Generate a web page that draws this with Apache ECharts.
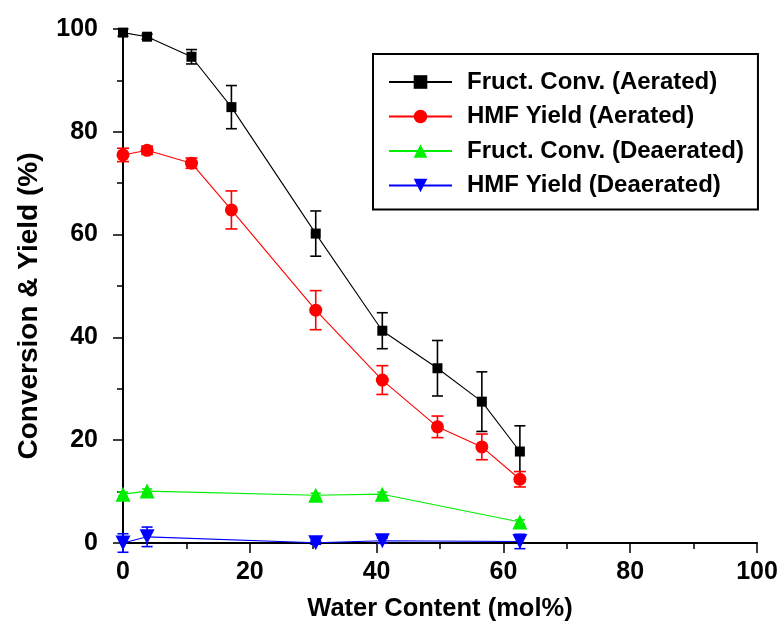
<!DOCTYPE html>
<html>
<head>
<meta charset="utf-8">
<script src="https://cdn.jsdelivr.net/npm/echarts@6/dist/echarts.min.js"></script>
<style>html,body{margin:0;padding:0;background:#fff;}#c{width:784px;height:635px;}</style>
</head>
<body>
<div id="c"></div>
<script>
// Data
var xAerated = [0, 3.8, 10.8, 17.1, 30.4, 40.9, 49.6, 56.6, 62.6];
var fructConvAerated = [99.3, 98.5, 94.6, 84.8, 60.2, 41.3, 34.0, 27.5, 17.8];
var fructConvAeratedErr = [0.7, 0.5, 1.4, 4.2, 4.4, 3.5, 5.4, 5.8, 5.0];
var hmfYieldAerated = [75.5, 76.4, 73.9, 64.8, 45.3, 31.7, 22.6, 18.7, 12.4];
var hmfYieldAeratedErr = [1.3, 0.8, 1.0, 3.7, 3.8, 2.8, 2.1, 2.5, 1.5];
var xDeaerated = [0, 3.8, 30.4, 40.9, 62.6];
var fructConvDeaerated = [9.5, 10.1, 9.3, 9.5, 4.1];
var fructConvDeaeratedErr = [0.4, 0.4, 0.4, 0.4, 0.4];
var hmfYieldDeaerated = [0.0, 1.2, 0.05, 0.45, 0.3];
var hmfYieldDeaeratedErr = [1.8, 1.9, 0.3, 0.5, 1.4];
var seriesNames = ['Fruct. Conv. (Aerated)', 'HMF Yield (Aerated)', 'Fruct. Conv. (Deaerated)', 'HMF Yield (Deaerated)'];
var xTicks = [0, 20, 40, 60, 80, 100];
var yTicks = [0, 20, 40, 60, 80, 100];

var FONT = '"Liberation Sans", Arial, sans-serif';

function pairs(xs, ys) { return xs.map(function (x, i) { return [x, ys[i]]; }); }
function errData(xs, ys, es) { return xs.map(function (x, i) { return [x, ys[i] - es[i], ys[i] + es[i]]; }); }

function errSeries(xs, ys, es, color, capW) {
  return {
    type: 'custom',
    silent: true,
    z: 3,
    data: errData(xs, ys, es),
    encode: { x: 0, y: [1, 2] },
    renderItem: function (params, api) {
      var x = api.value(0), lo = api.value(1), hi = api.value(2);
      var pt = api.coord([x, hi]), pb = api.coord([x, lo]);
      var st = { stroke: color, lineWidth: 1.6 };
      return {
        type: 'group',
        children: [
          { type: 'line', shape: { x1: pt[0], y1: pt[1], x2: pb[0], y2: pb[1] }, style: st },
          { type: 'line', shape: { x1: pt[0] - capW, y1: pt[1], x2: pt[0] + capW, y2: pt[1] }, style: st },
          { type: 'line', shape: { x1: pb[0] - capW, y1: pb[1], x2: pb[0] + capW, y2: pb[1] }, style: st }
        ]
      };
    }
  };
}

function lineSeries(name, xs, ys, color, symbol, size, rotate) {
  return {
    name: name,
    type: 'line',
    z: 4,
    data: pairs(xs, ys),
    symbol: symbol,
    symbolSize: size,
    symbolRotate: rotate || 0,
    showAllSymbol: true,
    lineStyle: { color: color, width: 1.1 },
    itemStyle: { color: color },
    emphasis: { disabled: true }
  };
}

var chart = echarts.init(document.getElementById('c'), null, { renderer: 'canvas' });
chart.setOption({
  animation: false,
  backgroundColor: '#ffffff',
  grid: { left: 123, right: 27, top: 29, bottom: 92, containLabel: false },
  legend: {
    data: seriesNames,
    orient: 'vertical',
    left: 373,
    top: 54,
    padding: [16, 14, 12, 15],
    itemGap: 10.5,
    itemWidth: 63,
    itemHeight: 17,
    borderColor: '#000',
    borderWidth: 2,
    textStyle: { fontFamily: FONT, fontWeight: 'bold', fontSize: 24, color: '#000', padding: [0, 0, 0, 10] }
  },
  xAxis: {
    type: 'value',
    min: 0, max: 100, interval: 20,
    name: 'Water Content (mol%)',
    nameLocation: 'middle',
    nameGap: 53,
    nameTextStyle: { fontFamily: FONT, fontWeight: 'bold', fontSize: 25.5, color: '#000' },
    axisLine: { show: true, onZero: false, lineStyle: { color: '#000', width: 2 } },
    axisTick: { show: true, inside: false, length: 10, lineStyle: { color: '#000', width: 1.5 } },
    minorTick: { show: true, splitNumber: 2, length: 6, lineStyle: { color: '#000', width: 1.5 } },
    axisLabel: { fontFamily: FONT, fontWeight: 'bold', fontSize: 25, color: '#000', margin: 17,
      formatter: function (v) { return xTicks.indexOf(v) >= 0 ? String(v) : ''; } },
    splitLine: { show: false }
  },
  yAxis: {
    type: 'value',
    min: 0, max: 100, interval: 20,
    name: 'Conversion & Yield (%)',
    nameLocation: 'middle',
    nameGap: 80,
    nameTextStyle: { fontFamily: FONT, fontWeight: 'bold', fontSize: 28, color: '#000', padding: [0, 40, 0, 0] },
    axisLine: { show: true, onZero: false, lineStyle: { color: '#000', width: 2 } },
    axisTick: { show: true, inside: false, length: 10, lineStyle: { color: '#000', width: 1.5 } },
    minorTick: { show: true, splitNumber: 2, length: 6, lineStyle: { color: '#000', width: 1.5 } },
    axisLabel: { fontFamily: FONT, fontWeight: 'bold', fontSize: 25, color: '#000', margin: 25,
      formatter: function (v) { return yTicks.indexOf(v) >= 0 ? String(v) : ''; } },
    splitLine: { show: false }
  },
  series: [
    errSeries(xAerated, fructConvAerated, fructConvAeratedErr, '#000000', 5.5),
    errSeries(xAerated, hmfYieldAerated, hmfYieldAeratedErr, '#ff0000', 6),
    errSeries(xDeaerated, fructConvDeaerated, fructConvDeaeratedErr, '#00ee00', 5),
    errSeries(xDeaerated, hmfYieldDeaerated, hmfYieldDeaeratedErr, '#0000ff', 5.5),
    lineSeries(seriesNames[0], xAerated, fructConvAerated, '#000000', 'rect', 10),
    lineSeries(seriesNames[1], xAerated, hmfYieldAerated, '#ff0000', 'circle', 13),
    lineSeries(seriesNames[2], xDeaerated, fructConvDeaerated, '#00ee00', 'triangle', 15),
    lineSeries(seriesNames[3], xDeaerated, hmfYieldDeaerated, '#0000ff', 'triangle', 15, 180)
  ]
});
</script>
</body>
</html>
